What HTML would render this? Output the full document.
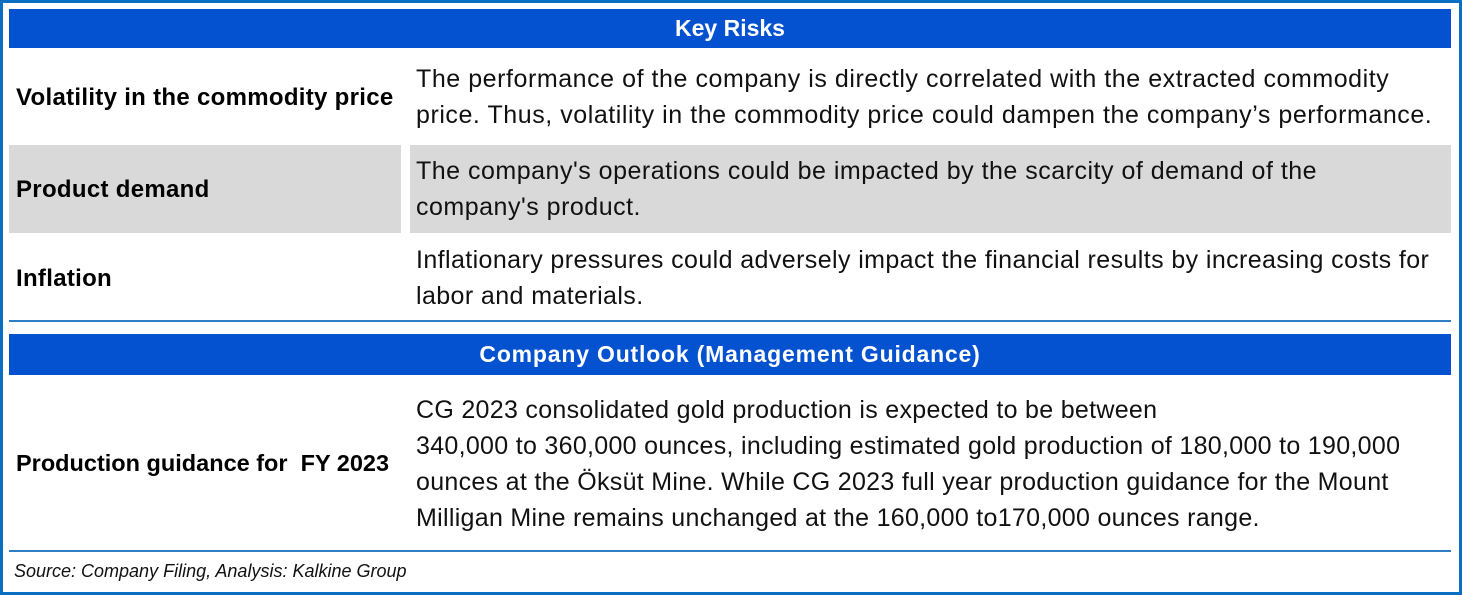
<!DOCTYPE html>
<html><head><meta charset="utf-8"><style>
body{margin:0;width:1462px;height:595px;background:#fff;overflow:hidden;font-family:"Liberation Sans",sans-serif;}
#frame{position:absolute;left:0;top:0;width:1456px;height:589px;border:3px solid #0a6fc2;}
.abs{position:absolute;white-space:nowrap;}
.hdr{position:absolute;left:9px;width:1442px;background:#0452cf;color:#fff;font-weight:bold;font-size:23px;letter-spacing:0.5px;text-align:center;}
.lbl{font-weight:bold;font-size:24px;letter-spacing:0.3px;color:#000;left:16px;}
.txt{font-size:25px;letter-spacing:0.5px;color:#111;left:416px;line-height:36px;}
.gray{position:absolute;background:#d9d9d9;}
.line{position:absolute;left:9px;width:1442px;height:2px;background:#2f7ec4;}
</style></head><body>
<div id="frame"></div>
<div class="hdr" style="top:9px;height:39px;line-height:39px;letter-spacing:0;">Key Risks</div>
<div class="abs lbl" style="top:84px;">Volatility in the commodity price</div>
<div class="abs txt" style="top:61px;letter-spacing:0.55px;">The performance of the company is directly correlated with the extracted commodity<br>price. Thus, volatility in the commodity price could dampen the company’s performance.</div>
<div class="gray" style="left:9px;top:145px;width:392px;height:88px;"></div>
<div class="gray" style="left:410px;top:145px;width:1041px;height:88px;"></div>
<div class="abs lbl" style="top:176px;">Product demand</div>
<div class="abs txt" style="top:153px;">The company's operations could be impacted by the scarcity of demand of the<br>company's product.</div>
<div class="abs lbl" style="top:265px;">Inflation</div>
<div class="abs txt" style="top:242px;letter-spacing:0.4px;">Inflationary pressures could adversely impact the financial results by increasing costs for<br>labor and materials.</div>
<div class="line" style="top:320px;"></div>
<div class="hdr" style="top:334px;height:41px;line-height:41px;letter-spacing:0.8px;">Company Outlook (Management Guidance)</div>
<div class="abs lbl" style="top:450px;letter-spacing:0;font-size:23.5px;">Production guidance for &nbsp;FY 2023</div>
<div class="abs txt" style="top:392px;letter-spacing:0.3px;">CG 2023 consolidated gold production is expected to be between<br>340,000 to 360,000 ounces, including estimated gold production of 180,000 to 190,000<br>ounces at the Öksüt Mine. While CG 2023 full year production guidance for the Mount<br>Milligan Mine remains unchanged at the 160,000 to170,000 ounces range.</div>
<div class="line" style="top:550px;"></div>
<div class="abs" style="left:14px;top:561px;font-size:18px;font-style:italic;color:#111;">Source: Company Filing, Analysis: Kalkine Group</div>
</body></html>
